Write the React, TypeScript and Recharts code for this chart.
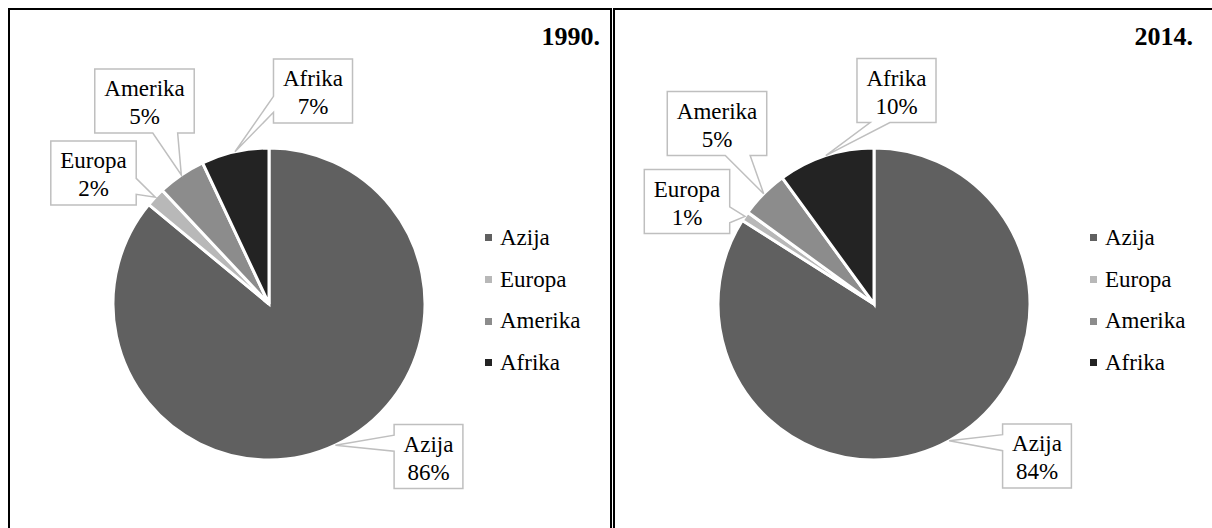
import React from 'react';
import { PieChart, Pie, Legend } from 'recharts';

const categories = ['Azija', 'Europa', 'Amerika', 'Afrika'];
const values1990 = [86, 2, 5, 7];
const values2014 = [84, 1, 5, 10];
const titles = ['1990.', '2014.'];
const colors = ['#606060', '#b8b8b8', '#8c8c8c', '#232323'];

// callout box centre offsets from the pie centre (layout only)
const labelOffsets1990 = [[159.5, 152.5], [-175.5, -131], [-124.5, -203], [44, -213]];
const labelOffsets2014 = [[163, 152], [-187, -102.5], [-157, -180.5], [22.5, -213.5]];

const FONT = '"Liberation Serif", "Times New Roman", serif';
const LABEL_SIZE = 23;
const RAD = Math.PI / 180;

let ctx: CanvasRenderingContext2D | null = null;
function measure(t: string): number {
  if (!ctx) {
    const c = document.createElement('canvas');
    ctx = c.getContext('2d');
  }
  if (!ctx) return t.length * LABEL_SIZE * 0.5;
  ctx.font = `${LABEL_SIZE}px "Liberation Serif"`;
  return ctx.measureText(t).width;
}

function calloutPath(l: number, t: number, w: number, h: number, tx: number, ty: number) {
  const r = l + w, b = t + h, hc = l + w / 2, vc = t + h / 2;
  const dxPos = tx - hc, dyPos = ty - vc;
  const dq = (dxPos * h) / w;
  const dz = Math.abs(dyPos) - Math.abs(dq);
  const x1 = l + (w * (dxPos > 0 ? 7 : 2)) / 12;
  const x2 = l + (w * (dxPos > 0 ? 10 : 5)) / 12;
  const y1 = t + (h * (dyPos > 0 ? 7 : 2)) / 12;
  const y2 = t + (h * (dyPos > 0 ? 10 : 5)) / 12;
  const xt = dz > 0 ? (dyPos > 0 ? x1 : tx) : x1;
  const yt = dz > 0 ? (dyPos > 0 ? t : ty) : t;
  const xr = dz > 0 ? r : dxPos > 0 ? tx : r;
  const yr = dz > 0 ? y1 : dxPos > 0 ? ty : y1;
  const xb = dz > 0 ? (dyPos > 0 ? tx : x1) : x1;
  const yb = dz > 0 ? (dyPos > 0 ? ty : b) : b;
  const xl = dz > 0 ? l : dxPos > 0 ? l : tx;
  const yl = dz > 0 ? y1 : dxPos > 0 ? y1 : ty;
  return `M${l},${t} L${x1},${t} L${xt},${yt} L${x2},${t} L${r},${t} L${r},${y1} L${xr},${yr} L${r},${y2} L${r},${b} L${x2},${b} L${xb},${yb} L${x1},${b} L${l},${b} L${l},${y2} L${xl},${yl} L${l},${y1} Z`;
}

function makeLabel(offsets: number[][]) {
  return (props: any) => {
    const { cx, cy, midAngle, outerRadius, percent, name, index } = props;
    const tx = cx + outerRadius * Math.cos(-midAngle * RAD);
    const ty = cy + outerRadius * Math.sin(-midAngle * RAD);
    const pct = `${Math.round(percent * 100)}%`;
    const w = Math.max(measure(name), measure(pct)) + 19;
    const h = 64;
    const bx = cx + offsets[index][0];
    const by = cy + offsets[index][1];
    return (
      <g key={`lbl-${index}`}>
        <path d={calloutPath(bx - w / 2, by - h / 2, w, h, tx, ty)} fill="#fff" stroke="#bfbfbf" strokeWidth={1.5} />
        <text x={bx} y={by - 5} textAnchor="middle" fontFamily={FONT} fontSize={LABEL_SIZE} fill="#000">{name}</text>
        <text x={bx} y={by + 23} textAnchor="middle" fontFamily={FONT} fontSize={LABEL_SIZE} fill="#000">{pct}</text>
      </g>
    );
  };
}

const renderLegend = (props: any) => {
  const payload = [...(props.payload || [])].sort(
    (a: any, b: any) => categories.indexOf(a.value) - categories.indexOf(b.value)
  );
  return (
    <div style={{ fontFamily: FONT, fontSize: LABEL_SIZE, color: '#000' }}>
      {payload.map((e: any, i: number) => (
        <div key={i} style={{ height: 41.7, display: 'flex', alignItems: 'center', whiteSpace: 'nowrap' }}>
          <span style={{ display: 'inline-block', width: 7, height: 7, background: e.color ?? colors[i], marginRight: 8 }} />
          <span>{e.value}</span>
        </div>
      ))}
    </div>
  );
};

function Panel({ values, title, offsets, titleRight, marginLeft }: any) {
  const data = categories.map((c, i) => ({ name: c, value: values[i], fill: colors[i] }));
  return (
    <div style={{ position: 'relative', border: '2px solid #000', width: 600, height: 530, marginLeft, flex: 'none' }}>
      <PieChart width={600} height={530} margin={{ top: 0, right: 0, bottom: 0, left: 0 }}>
        <Pie
          data={data}
          dataKey="value"
          nameKey="name"
          cx={259}
          cy={294}
          outerRadius={156}
          startAngle={90}
          endAngle={-270}
          stroke="#ffffff"
          strokeWidth={3}
          labelLine={false}
          label={makeLabel(offsets)}
          isAnimationActive={false}
        />
        <Legend
          layout="vertical"
          align="right"
          verticalAlign="top"
          itemSorter={(item: any) => categories.indexOf(item.value)}
          content={renderLegend}
          wrapperStyle={{ position: 'absolute', left: 475, top: 207, width: 'auto', height: 'auto' }}
        />
      </PieChart>
      <div style={{ position: 'absolute', right: titleRight, top: 14, fontFamily: FONT, fontWeight: 'bold', fontSize: 26, lineHeight: '26px' }}>
        {title}
      </div>
    </div>
  );
}

export default function App() {
  return (
    <div style={{ position: 'fixed', left: 8, top: 8, width: 1204, height: 520, overflow: 'hidden', display: 'flex', background: '#fff' }}>
      <Panel values={values1990} title={titles[0]} offsets={labelOffsets1990} titleRight={10} marginLeft={0} />
      <Panel values={values2014} title={titles[1]} offsets={labelOffsets2014} titleRight={22} marginLeft={1} />
    </div>
  );
}
